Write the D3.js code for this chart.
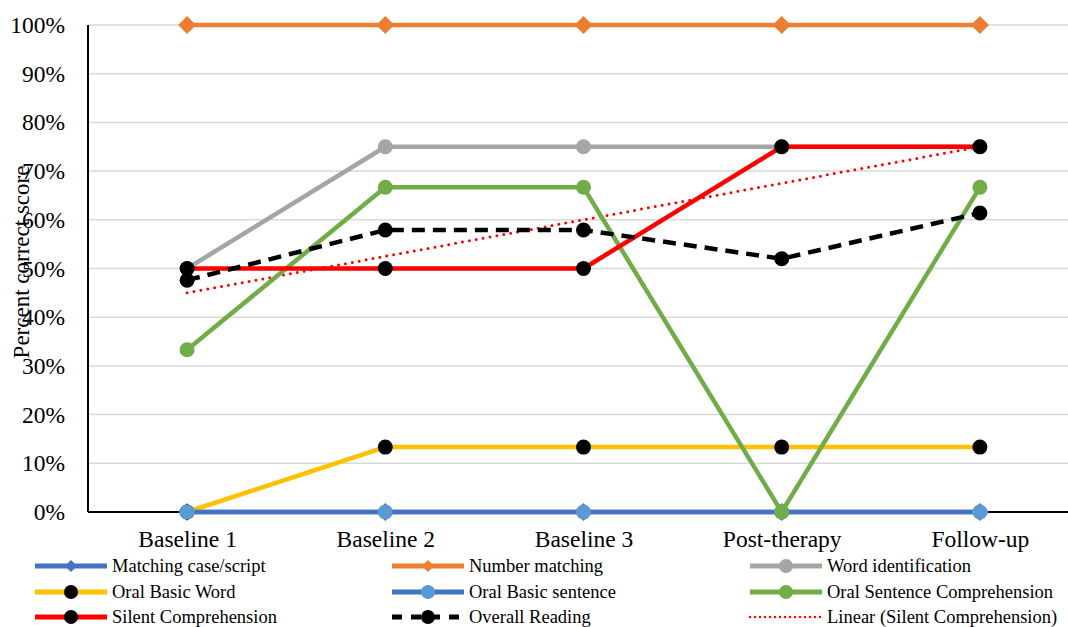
<!DOCTYPE html>
<html><head><meta charset="utf-8">
<script src="https://cdn.jsdelivr.net/npm/d3@7"></script>
<style>body{margin:0;background:#fff}svg{display:block}</style>
</head><body><svg id="c" width="1068" height="627"></svg>
<script>
const categories = ["Baseline 1","Baseline 2","Baseline 3","Post-therapy","Follow-up"];
const yTicks = [0,0.1,0.2,0.3,0.4,0.5,0.6,0.7,0.8,0.9,1.0];
const matchingCase = [0,0,0,0,0];
const numberMatching = [1,1,1,1,1];
const wordIdentification = [0.5,0.75,0.75,0.75,0.75];
const oralBasicWord = [0,0.1333,0.1333,0.1333,0.1333];
const oralBasicSentence = [0,0,0,0,0];
const oralSentenceComp = [0.3333,0.6667,0.6667,0,0.6667];
const silentComp = [0.5,0.5,0.5,0.75,0.75];
const overallReading = [0.476,0.579,0.579,0.52,0.614];
const silentTrendEnds = [0.45,0.75];

const FONT = "'Liberation Serif', 'Times New Roman', serif";

const series = [
 {name:"Matching case/script", values:matchingCase, color:"#4472C4", marker:"diamond", mcolor:"#4472C4"},
 {name:"Number matching", values:numberMatching, color:"#ED7D31", marker:"diamond", mcolor:"#ED7D31"},
 {name:"Word identification", values:wordIdentification, color:"#A5A5A5", marker:"circle", mcolor:"#A5A5A5"},
 {name:"Oral Basic Word", values:oralBasicWord, color:"#FFC000", marker:"circle", mcolor:"#000000"},
 {name:"Oral Basic sentence", values:oralBasicSentence, color:"#4472C4", marker:"circle", mcolor:"#5B9BD5"},
 {name:"Oral Sentence Comprehension", values:oralSentenceComp, color:"#70AD47", marker:"circle", mcolor:"#70AD47"},
 {name:"Silent Comprehension", values:silentComp, color:"#FF0000", marker:"circle", mcolor:"#000000"},
 {name:"Overall Reading", values:overallReading, color:"#000000", marker:"circle", mcolor:"#000000", dash:"13,8"}
];

const svg = d3.select("#c");
const pLeft = 88, pRight = 1079, pTop = 25, pBottom = 512;
const x = d3.scalePoint().domain(categories).range([pLeft, pRight]).padding(0.5);
const y = d3.scaleLinear().domain([0,1]).range([pBottom, pTop]);

// gridlines
svg.append("g").selectAll("line").data(yTicks.filter(d=>d>0)).join("line")
  .attr("x1", pLeft).attr("x2", 1068).attr("y1", d=>y(d)).attr("y2", d=>y(d))
  .attr("stroke", "#D9D9D9").attr("stroke-width", 1.5);

// y axis
const yAxis = d3.axisLeft(y).tickValues(yTicks).tickFormat(d3.format(".0%")).tickSize(0).tickPadding(23);
const gy = svg.append("g").attr("transform", `translate(${pLeft},0)`).call(yAxis);
gy.select(".domain").remove();
gy.attr("font-family", null).attr("font-size", null);
gy.selectAll("text").style("font-size", "23.5px").style("font-family", FONT).style("fill","#000");

// x axis
const xAxis = d3.axisBottom(x).tickSize(0).tickPadding(18);
const gx = svg.append("g").attr("transform", `translate(0,${pBottom})`).call(xAxis);
gx.select(".domain").remove();
gx.attr("font-family", null).attr("font-size", null);
gx.selectAll("text").style("font-size", "23.5px").style("font-family", FONT).style("fill","#000");

// axis lines
svg.append("line").attr("x1", pLeft).attr("x2", pLeft).attr("y1", pTop).attr("y2", pBottom).attr("stroke","#000").attr("stroke-width",2);
svg.append("line").attr("x1", pLeft).attr("x2", 1068).attr("y1", pBottom).attr("y2", pBottom).attr("stroke","#000").attr("stroke-width",2);

// trendline
const firstC = categories[0], lastC = categories[categories.length-1];
svg.append("line").attr("x1", x(firstC)).attr("y1", y(silentTrendEnds[0]))
  .attr("x2", x(lastC)).attr("y2", y(silentTrendEnds[1]))
  .attr("stroke","#FF0000").attr("stroke-width",3).attr("stroke-dasharray","0,7").attr("stroke-linecap","round");

const line = d3.line().x((d,i)=>x(categories[i])).y(d=>y(d));

function drawMarker(g, s, cx, cy, r){
  if (s.marker === "diamond") {
    g.append("path").attr("d", d3.symbol().type(d3.symbolSquare).size((r*1.41)*(r*1.41))())
      .attr("transform", `translate(${cx},${cy}) rotate(45)`).attr("fill", s.mcolor);
  } else {
    g.append("circle").attr("cx", cx).attr("cy", cy).attr("r", r).attr("fill", s.mcolor);
  }
}

series.forEach(s=>{
  const g = svg.append("g");
  g.append("path").attr("d", line(s.values)).attr("fill","none").attr("stroke", s.color)
    .attr("stroke-width", 4.5).attr("stroke-linejoin","round").attr("stroke-dasharray", s.dash || null);
  s.values.forEach((v,i)=>drawMarker(g, s, x(categories[i]), y(v), s.marker==="diamond" ? 9 : 7.5));
});

// y axis title
svg.append("text").attr("transform","translate(29,262) rotate(-90)").attr("text-anchor","middle")
  .style("font-family", FONT).style("font-size","23px").style("fill","#000").text("Percent correct score");

// legend
const legendItems = series.concat([{name:"Linear (Silent Comprehension)", trend:true}]);
const colX = [35, 392, 750];
const rowY = [566, 592, 617];
legendItems.forEach((s,i)=>{
  const cx = colX[i%3], cy = rowY[Math.floor(i/3)];
  const g = svg.append("g");
  if (s.trend) {
    g.append("line").attr("x1", cx).attr("x2", cx+72).attr("y1", cy).attr("y2", cy)
      .attr("stroke","#FF0000").attr("stroke-width",2.5).attr("stroke-dasharray","0,5").attr("stroke-linecap","round");
  } else {
    g.append("line").attr("x1", cx).attr("x2", cx+72).attr("y1", cy).attr("y2", cy)
      .attr("stroke", s.color).attr("stroke-width", 5).attr("stroke-dasharray", s.dash ? "10,9" : null);
    drawMarker(g, s, cx+36, cy, s.marker==="diamond" ? 6 : 7);
  }
  g.append("text").attr("x", cx+77).attr("y", cy+6).style("font-family", FONT).style("font-size","18.5px")
    .style("fill","#000").text(s.name);
});
</script></body></html>
